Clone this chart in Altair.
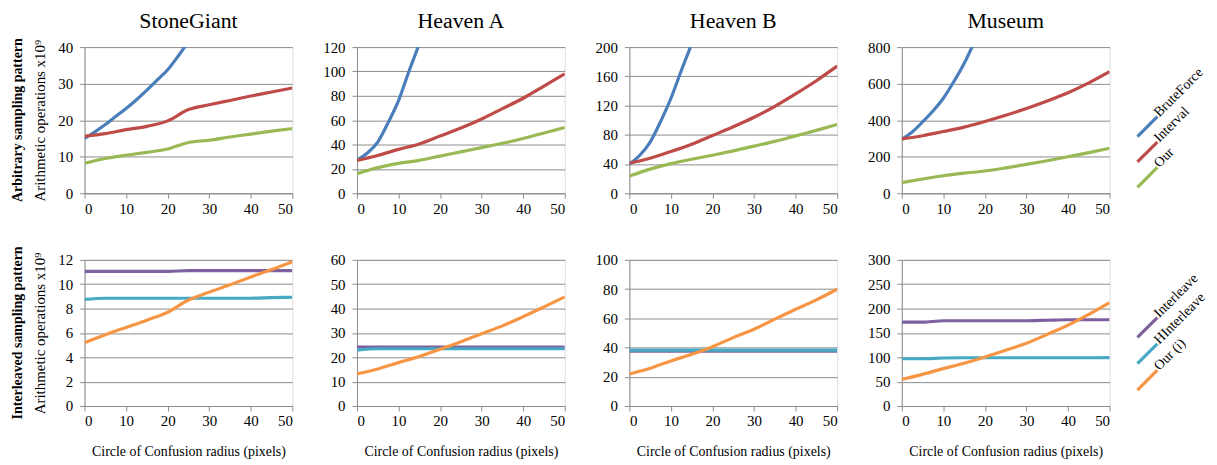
import altair as alt
import pandas as pd

FONT = "Liberation Serif"

# ---------------- data ----------------
X5 = [0, 5, 10, 15, 20, 25, 30, 35, 40, 45, 50]
X_BF = [0, 2.5, 5, 7.5, 10, 12.5, 15, 17.5, 20, 22.5, 25, 30]

# Arbitrary sampling pattern (top row)
sg_bf = [15.0, 16.8, 18.8, 21.0, 23.2, 25.6, 28.2, 31.0, 33.8, 37.5, 41.5, 50.0]
sg_int = [15.6, 16.3, 17.4, 18.3, 19.8, 22.9, 24.2, 25.4, 26.6, 27.7, 28.8]
sg_our = [8.2, 9.5, 10.4, 11.2, 12.1, 13.9, 14.5, 15.4, 16.2, 17.0, 17.7]

ha_bf = [27, 33, 42, 58, 76, 100, 123, 150, 180, 212, 246, 320]
ha_int = [27, 31, 36, 40.5, 47, 53.5, 61, 69.5, 78, 88, 98]
ha_our = [16, 21, 24.5, 27, 30.5, 34, 37.5, 41, 45, 49.5, 54]

hb_bf = [40, 52, 70, 98, 130, 168, 205, 250, 300, 355, 415, 550]
hb_int = [41, 48, 57, 67, 79, 91, 104, 119, 136, 154, 174]
hb_our = [23.5, 33, 40.5, 46.5, 52, 58, 64.5, 71, 78.5, 86, 94]

m_bf = [295, 335, 390, 450, 520, 610, 710, 830, 960, 1100, 1250, 1600]
m_int = [298, 315, 338, 362, 393, 427, 464, 505, 550, 604, 665]
m_our = [58, 78, 96, 110, 122, 139, 158, 178, 200, 222, 246]

# Interleaved sampling pattern (bottom row)
sg_il = [11.05, 11.05, 11.05, 11.05, 11.05, 11.12, 11.12, 11.12, 11.12, 11.12, 11.12]
sg_hil = [8.75, 8.85, 8.85, 8.85, 8.85, 8.85, 8.85, 8.85, 8.85, 8.9, 8.93]
sg_oi = [5.2, 5.85, 6.45, 7.05, 7.7, 8.7, 9.35, 9.95, 10.6, 11.2, 11.85]

ha_il = [24.2, 24.2, 24.2, 24.2, 24.2, 24.2, 24.2, 24.2, 24.2, 24.2, 24.2]
ha_hil = [22.9, 23.5, 23.5, 23.5, 23.5, 23.5, 23.5, 23.5, 23.5, 23.5, 23.5]
ha_oi = [13.2, 15.2, 17.8, 20.3, 23.3, 26.4, 29.7, 32.9, 36.7, 40.7, 44.8]

hb_il = [37.6, 37.6, 37.6, 37.6, 37.6, 37.6, 37.6, 37.6, 37.6, 37.6, 37.6]
hb_hil = [38.2, 38.2, 38.2, 38.2, 38.2, 38.2, 38.2, 38.2, 38.2, 38.2, 38.2]
hb_oi = [21.9, 25.8, 30.8, 35.4, 40.6, 46.8, 52.5, 59.4, 66.2, 72.6, 79.9]

m_il = [172, 172, 175, 175, 175, 175, 175, 176, 177, 177, 177]
m_hil = [97, 97, 98.5, 99, 99, 99, 99, 99, 99, 99, 99.3]
m_oi = [54.8, 65, 76.7, 87.7, 100.7, 114.4, 128.8, 147, 166, 188, 212]

titles = ["StoneGiant", "Heaven A", "Heaven B", "Museum"]
top_series = ["BruteForce", "Interval", "Our"]
bot_series = ["Interleave", "HInterleave", "Our (i)"]
all_series = top_series + bot_series
colors = ["#4A7EBB", "#BE4B48", "#98B954", "#7D60A0", "#46AAC5", "#F69544"]

top_domains = [[0, 40], [0, 120], [0, 200], [0, 800]]
top_ticks = [[0, 10, 20, 30, 40], [0, 20, 40, 60, 80, 100, 120],
             [0, 40, 80, 120, 160, 200], [0, 200, 400, 600, 800]]
bot_domains = [[0, 12], [0, 60], [0, 100], [0, 300]]
bot_ticks = [[0, 2, 4, 6, 8, 10, 12], [0, 10, 20, 30, 40, 50, 60],
             [0, 20, 40, 60, 80, 100], [0, 50, 100, 150, 200, 250, 300]]

top_data = [(sg_bf, sg_int, sg_our), (ha_bf, ha_int, ha_our),
            (hb_bf, hb_int, hb_our), (m_bf, m_int, m_our)]
bot_data = [(sg_il, sg_hil, sg_oi), (ha_il, ha_hil, ha_oi),
            (hb_il, hb_hil, hb_oi), (m_il, m_hil, m_oi)]

row_labels = ["Arbitrary sampling pattern", "Interleaved sampling pattern"]
y_title = "Arithmetic operations  x10\u2079"
x_title = "Circle of  Confusion radius (pixels)"

W, H = 209, 147
color_scale = alt.Scale(domain=all_series, range=colors)
GRID = "#8C8C8C"


def make_df(names, series, top):
    rows = []
    for k, (name, vals) in enumerate(zip(names, series)):
        xs = X_BF if (top and k == 0) else X5
        for x, v in zip(xs, vals):
            rows.append({"series": name, "x": x, "v": v, "k": k})
    return pd.DataFrame(rows)


def panel(df, ydom, yticks, col, top, names, legend_range):
    style = dict(labelFont=FONT, titleFont=FONT, labelFontSize=15,
                 titleFontWeight="normal", labelColor="black", titleColor="black",
                 domainColor=GRID, tickColor=GRID, gridColor=GRID, tickSize=5)
    xaxis = alt.Axis(values=[0, 10, 20, 30, 40, 50], grid=False,
                     title=None if top else x_title, titlePadding=16,
                     titleFontSize=14, labelPadding=3, **style)
    yaxis = alt.Axis(values=yticks, grid=True, labelPadding=7,
                     title=y_title if col == 0 else None, titleFontSize=15,
                     minExtent=30, maxExtent=30, titlePadding=7, **style)
    lines = alt.Chart(df).mark_line(strokeWidth=3.2, interpolate="monotone",
                                    clip=True).encode(
        x=alt.X("x:Q", scale=alt.Scale(domain=[0, 50], nice=False), axis=xaxis),
        y=alt.Y("v:Q", scale=alt.Scale(domain=ydom, nice=False), axis=yaxis),
        color=alt.Color("series:N", scale=color_scale, legend=None),
        detail="k:O",
        order="x:Q",
    )
    layers = [lines]
    if top:
        ttl = alt.Chart(pd.DataFrame({"t": [titles[col]]})).mark_text(
            fontSize=22, font=FONT, align="center", baseline="alphabetic", color="black"
        ).encode(x=alt.value(W / 2), y=alt.value(-19), text="t:N")
        layers.append(ttl)
    if col == 0:
        lab = alt.Chart(pd.DataFrame({"t": [row_labels[0 if top else 1]]})).mark_text(
            angle=270, fontWeight="bold", fontSize=14, font=FONT, baseline="middle",
            color="black"
        ).encode(x=alt.value(-67), y=alt.value(H / 2), text="t:N")
        layers.append(lab)
    if col == 3:
        ldf = pd.DataFrame({"series": names, "order": [0, 1, 2]})
        ly = alt.Y("order:O", scale=alt.Scale(range=legend_range, padding=0), axis=None)
        pts = alt.Chart(ldf).mark_point(shape="M-1,1L1,-1", size=400, strokeWidth=3.2,
                                        filled=False, opacity=1).encode(
            x=alt.value(W + 38), y=ly,
            color=alt.Color("series:N", scale=color_scale, legend=None))
        txt = alt.Chart(ldf).mark_text(angle=315, align="left", baseline="alphabetic",
                                       dx=15, dy=2, fontSize=14, font=FONT,
                                       color="black").encode(
            x=alt.value(W + 38), y=ly, text="series:N")
        layers += [pts, txt]
    ch = alt.layer(*layers).resolve_scale(y="independent")
    return ch.properties(width=W, height=H)


charts = []
for c in range(4):
    charts.append(panel(make_df(top_series, top_data[c], True), top_domains[c],
                        top_ticks[c], c, True, top_series, [80, 131]))
for c in range(4):
    charts.append(panel(make_df(bot_series, bot_data[c], False), bot_domains[c],
                        bot_ticks[c], c, False, bot_series, [68, 121]))

chart = alt.concat(*charts, columns=4, spacing={"row": 67, "column": 65},
                   bounds="flush").resolve_scale(y="independent").properties(
    padding={"left": 2, "top": 0, "right": 0, "bottom": 0}
).configure_view(stroke=None).configure(font=FONT).configure_axis(
    labelFont=FONT, titleFont=FONT
).configure_text(font=FONT)

chart.save("out.html", embed_options={"renderer": "svg", "actions": False})
